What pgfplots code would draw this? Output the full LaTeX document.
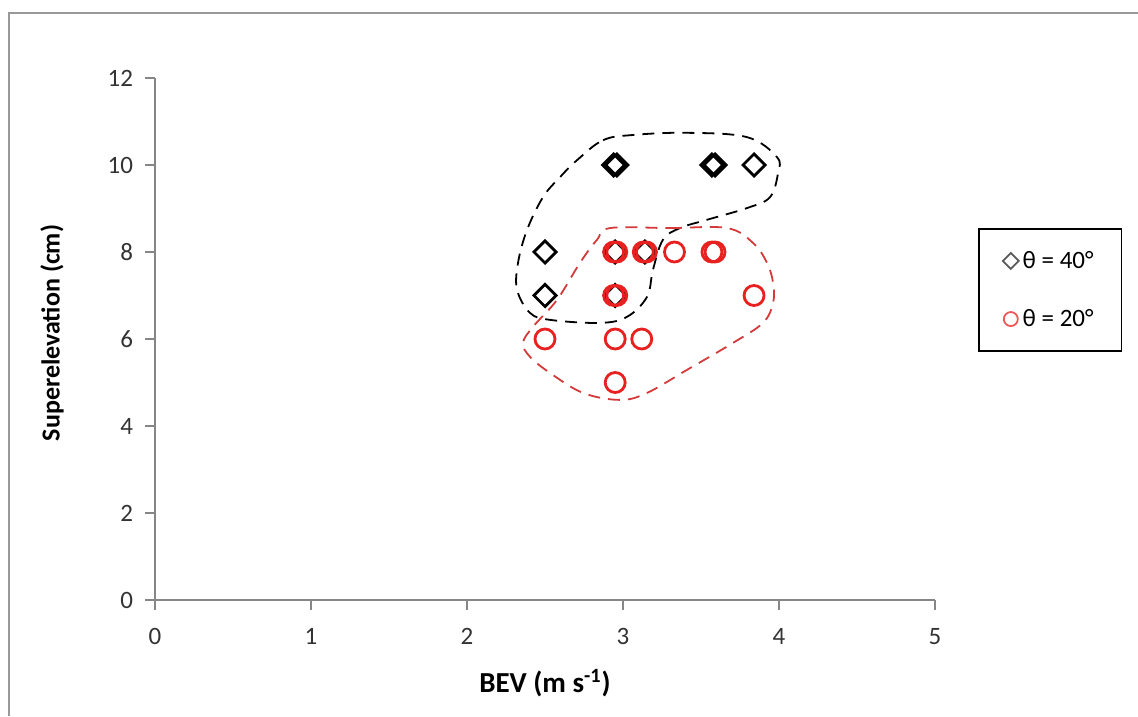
\documentclass[border=0pt]{standalone}
\usepackage{fontspec}
\setmainfont{Carlito}
\usepackage{pgfplots}
\pgfplotsset{compat=1.18}
\definecolor{axgray}{RGB}{134,134,134}
\definecolor{mred}{RGB}{232,32,32}
\definecolor{dred}{RGB}{212,58,58}
\begin{document}
\begin{tikzpicture}
\useasboundingbox (0,0) rectangle (569pt,358pt);
\draw[color=gray!80, line width=1pt] (4.5pt,0pt) -- (4.5pt,351.5pt) -- (569pt,351.5pt);
\begin{axis}[
  at={(77.5pt,58pt)}, anchor=south west,
  scale only axis, width=390pt, height=261pt,
  xmin=0, xmax=5, ymin=0, ymax=12,
  axis x line*=bottom, axis y line*=left,
  xtick={0,1,2,3,4,5}, ytick={0,2,4,6,8,10,12},
  tick align=outside, major tick length=5pt,
  axis line style={axgray, line width=0.75pt},
  tick style={axgray, line width=0.75pt},
  ticklabel style={font=\fontsize{12.5}{14}\selectfont, text=black!80},
  xticklabel style={yshift=-5.5pt},
  yticklabel style={xshift=-2.5pt},
  /pgf/number format/assume math mode=true,
  xlabel={BEV (m s\textsuperscript{-1})},
  ylabel={Superelevation (cm)},
  xlabel style={font=\bfseries\fontsize{14.5}{16}\selectfont, at={(axis description cs:0.5,-0.159)}, anchor=center},
  ylabel style={font=\bfseries\fontsize{13}{15}\selectfont, at={(axis description cs:-0.132,0.5115)}, anchor=center, rotate=0},
  clip=false,
  legend style={at={(1.0551,0.7126)}, anchor=north west, draw=black, line width=0.9pt,
    inner xsep=12pt, inner ysep=9pt, row sep=15pt, font=\fontsize{12.5}{14}\selectfont},
  legend cell align=left,
]
\addlegendimage{only marks, mark=square, mark size=2.8pt, mark options={rotate=45, draw=black!65, line width=0.9pt}}
\addlegendentry{θ = 40°}
\addlegendimage{only marks, mark=o, mark size=3.5pt, mark options={draw=mred!75, line width=0.9pt}}
\addlegendentry{θ = 20°}

% dashed enclosing curves
\addplot[forget plot, black, dash pattern=on 6pt off 4pt, line width=0.9pt, smooth cycle, tension=0.6] coordinates {
(2.705,10.11) (2.872,10.57) (3.064,10.69) (3.41,10.74) (3.795,10.64) (3.987,10.18)
(3.994,9.82) (3.942,9.26) (3.795,9.01) (3.538,8.74) (3.365,8.55) (3.256,8.28)
(3.192,7.59) (3.154,6.97) (3.026,6.51) (2.853,6.37) (2.532,6.44) (2.404,6.60)
(2.321,7.13) (2.327,7.75) (2.385,8.51) (2.487,9.26) (2.596,9.72)};
\addplot[forget plot, dred, dash pattern=on 6pt off 4pt, line width=0.9pt, smooth cycle, tension=0.6] coordinates {
(2.917,8.55) (3.30,8.55) (3.667,8.55) (3.833,8.21) (3.923,7.75) (3.962,7.29) (3.962,6.83)
(3.897,6.37) (3.705,5.91) (3.41,5.29) (3.154,4.76) (2.981,4.60) (2.744,4.76)
(2.532,5.22) (2.404,5.59) (2.359,5.91) (2.423,6.28) (2.577,6.90) (2.724,7.75) (2.833,8.28)};

% theta = 40 deg
\addplot[forget plot, only marks, mark=square, mark size=3.9pt, mark options={rotate=45, draw=black, line width=1.4pt}] coordinates {
(2.94,10) (2.96,10) (3.57,10) (3.59,10) (3.84,10)
(2.50,8) (2.95,8) (3.14,8)
(2.50,7) (2.95,7)};
% theta = 20 deg
\addplot[forget plot, only marks, mark=o, mark size=5pt, mark options={draw=mred, line width=1.4pt}] coordinates {
(2.94,8) (2.96,8) (3.13,8) (3.15,8) (3.33,8) (3.57,8) (3.59,8)
(3.84,7) (2.94,7) (2.96,7)
(2.50,6) (2.95,6) (3.12,6)
(2.95,5)};
\end{axis}
\end{tikzpicture}
\end{document}
